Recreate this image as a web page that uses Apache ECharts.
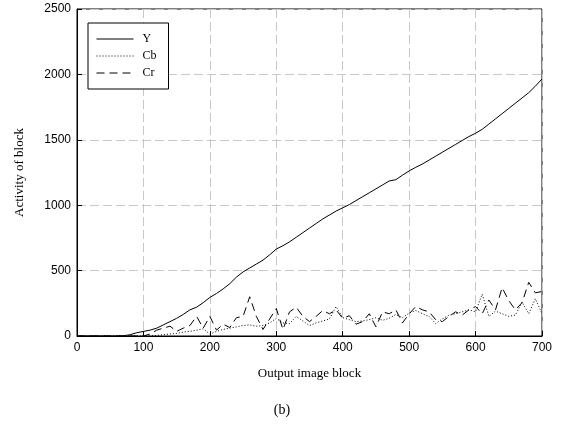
<!DOCTYPE html>
<html>
<head>
<meta charset="utf-8">
<script src="https://cdn.jsdelivr.net/npm/echarts@6/dist/echarts.min.js"></script>
<style>html,body{margin:0;padding:0;background:#fff;}#c{width:564px;height:432px;}</style>
</head>
<body>
<div id="c"></div>
<script>
const blocks = [0,10,20,30,40,50,60,70,80,90,100,110,120,130,140,150,160,170,180,190,200,210,220,230,240,250,260,270,280,290,300,310,320,330,340,350,360,370,380,390,400,410,420,430,440,450,460,470,480,490,500,510,520,530,540,550,560,570,580,590,600,610,620,630,640,650,660,670,680,690,700];
const yValues = [0,0,0,0,0,0,0,2,10,25,35,45,60,85,110,135,165,200,220,255,295,325,360,400,450,490,520,550,580,620,665,690,720,755,790,825,860,895,925,955,980,1005,1035,1065,1095,1125,1155,1185,1195,1230,1262,1290,1315,1345,1375,1405,1435,1465,1495,1525,1550,1580,1620,1660,1700,1740,1780,1820,1860,1910,1965];
const cbValues = [0,0,0,0,0,0,0,0,0,0,0,0,5,10,15,20,30,35,45,55,15,35,50,60,70,80,85,75,80,100,135,100,95,150,115,80,100,115,130,225,140,125,110,115,125,140,120,135,165,140,175,195,170,150,95,130,160,170,185,200,185,320,150,190,170,150,160,260,170,285,170];
const crValues = [0,0,0,0,0,0,0,0,0,0,0,15,45,60,75,35,60,80,150,60,150,45,90,65,140,150,300,150,50,130,210,50,185,220,150,110,150,195,170,200,135,155,90,110,170,70,185,170,200,100,170,225,200,185,125,110,150,185,160,200,225,170,275,200,370,270,200,255,410,330,340];
const xTicks = [0,100,200,300,400,500,600,700];
const yTicks = [0,500,1000,1500,2000,2500];
const seriesNames = ['Y','Cb','Cr'];

const pair = v => blocks.map((b,i)=>[b,v[i]]);
const chart = echarts.init(document.getElementById('c'), null, {renderer:'canvas'});
const serif = '"Liberation Serif", "Times New Roman", serif';
const sans = '"Liberation Sans", Arial, sans-serif';
const gridLine = {show:true, lineStyle:{color:'#c8c8c8', width:1, type:[9,4]}};
chart.setOption({
  animation:false,
  backgroundColor:'#fff',
  title:{text:'(b)', left:'center', top:398, textStyle:{fontFamily:serif, fontSize:14, fontWeight:'normal', color:'#000'}},
  grid:{left:77, right:22, top:9, bottom:96, show:true, borderColor:'#000', borderWidth:1},
  legend:{
    orient:'vertical', left:88, top:23,
    data:seriesNames,
    itemStyle:{opacity:0},
    lineStyle:{width:1},
    backgroundColor:'#fff', borderColor:'#000', borderWidth:1,
    padding:[10,12,10,8], itemGap:5, itemWidth:37, itemHeight:12,
    textStyle:{fontFamily:serif, fontSize:12, color:'#000', padding:[0,0,0,4]}
  },
  xAxis:{
    type:'value', min:0, max:700, interval:100,
    name:'Output image block', nameLocation:'middle', nameGap:31,
    nameTextStyle:{fontFamily:serif, fontSize:13, color:'#000'},
    axisLine:{lineStyle:{color:'#000'}},
    axisTick:{inside:true, length:5, lineStyle:{color:'#000'}},
    axisLabel:{fontFamily:sans, fontSize:12, color:'#000', margin:6, formatter:v=>String(v)},
    splitLine:gridLine
  },
  yAxis:{
    type:'value', min:0, max:2500, interval:500,
    name:'Activity of block', nameLocation:'middle', nameGap:51,
    nameTextStyle:{fontFamily:serif, fontSize:13, color:'#000'},
    axisLine:{show:true, lineStyle:{color:'#000'}},
    axisTick:{show:true, inside:true, length:5, lineStyle:{color:'#000'}},
    axisLabel:{fontFamily:sans, fontSize:12, color:'#000', margin:6, formatter:v=>String(v)},
    splitLine:gridLine
  },
  series:[
    {name:'Y', type:'line', data:pair(yValues), showSymbol:false, symbol:'none', lineStyle:{color:'#000', width:1, type:'solid'}, itemStyle:{color:'#000'}},
    {name:'Cb', type:'line', data:pair(cbValues), showSymbol:false, symbol:'none', lineStyle:{color:'#000', width:1, type:[1,2]}, itemStyle:{color:'#000'}},
    {name:'Cr', type:'line', data:pair(crValues), showSymbol:false, symbol:'none', lineStyle:{color:'#000', width:1, type:[8,5]}, itemStyle:{color:'#000'}}
  ]
});
</script>
</body>
</html>
